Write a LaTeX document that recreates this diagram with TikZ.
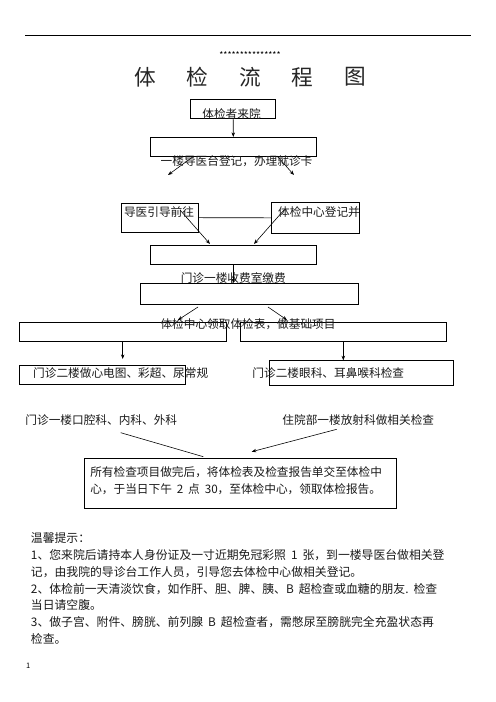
\documentclass[tikz,border=0pt]{standalone}
\usepackage{fontspec}
\setmainfont{Noto Sans CJK SC}
\usetikzlibrary{arrows.meta,positioning}
\newdimen\px \px=1.2pt
\newcommand\gap{\hspace{0.42em}}

\begin{document}
\begin{tikzpicture}[x=1.2pt,y=-1.2pt,>={Stealth[length=5.5pt,width=4.2pt]},line width=0.7pt,
  box/.style={draw,line width=0.9pt,inner sep=0pt},
  txt/.style={font=\fontsize{14}{16}\selectfont,inner sep=0pt,text=black!90},
  tip/.style={font=\fontsize{14.2}{16}\selectfont,inner sep=0pt,text=black!90,anchor=west},
  hanzi/.style={font=\fontsize{26}{28}\selectfont,inner sep=0pt,text=black!85}]

\useasboundingbox (0,0) rectangle (496,702);

% header
\coordinate (rl) at (25,35);
\coordinate (rr) at (471,35);
\draw[line width=1pt] (rl) -- (rr);
\node[inner sep=0pt,font=\fontsize{10.5}{12}\selectfont] (stars) at (250,55) {***************};
\foreach \c [count=\i from 0] in {体,检,流,程,图}
  \node[hanzi] (h\i) at (145+52.5*\i,77) {\c};

% boxes
\node[box,minimum width=85\px,minimum height=19.3\px]   (arrive)  at (233.2,108.7) {};
\node[box,minimum width=166.7\px,minimum height=18.7\px] (desk)   at (233.3,146.7) {};
\node[box,minimum width=76.3\px,minimum height=29.5\px]  (guide)  at (159.8,217.7) {};
\node[box,minimum width=87.3\px,minimum height=30.3\px]  (center) at (315.3,217.8) {};
\node[box,minimum width=166.7\px,minimum height=19\px]   (pay)    at (233.3,254.5) {};
\node[box,minimum width=217.6\px,minimum height=20.7\px] (form)   at (249.5,293.7) {};
\node[box,minimum width=206.7\px,minimum height=19\px]   (baseL)  at (122.7,331.8) {};
\node[box,minimum width=206.7\px,minimum height=19\px]   (baseR)  at (343.3,331.8) {};
\node[box,minimum width=166\px,minimum height=18.3\px]   (floorL) at (102.3,374.8) {};
\node[box,minimum width=184\px,minimum height=24.6\px]   (floorR) at (361.3,373) {};
\node[box,minimum width=312.7\px,minimum height=50\px]   (report) at (240.3,483.3) {};

% texts
\node[txt] (tArrive) at (231.5,114)   {体检者来院};
\node[txt] (tDesk)   at (236.5,161)   {一楼导医台登记，办理就诊卡};
\node[txt] (tGuide)  at (159,212)     {导医引导前往};
\node[txt] (tCenter) at (319,212)     {体检中心登记并};
\node[txt] (tPay)    at (233.3,277.7) {门诊一楼收费室缴费};
\node[txt] (tForm)   at (248,324.5)   {体检中心领取体检表，做基础项目};
\node[txt] (tFloorL) at (120.7,373)   {门诊二楼做心电图、彩超、尿常规};
\node[txt] (tFloorR) at (328.3,373)   {门诊二楼眼科、耳鼻喉科检查};
\node[txt] (tOral)   at (101.3,420)   {门诊一楼口腔科、内科、外科};
\node[txt] (tRay)    at (358.3,420)   {住院部一楼放射科做相关检查};
\node[txt,anchor=west] (tRep1) at (90,471.7) {所有检查项目做完后，将体检表及检查报告单交至体检中};
\node[txt,anchor=west] (tRep2) at (90,489)   {心，于当日下午\gap 2\gap 点\gap 30，至体检中心，领取体检报告。};

% free ends
\coordinate (d1) at (194,156);   \coordinate (d2) at (168,175);
\coordinate (d3) at (277,156);   \coordinate (d4) at (294,175);
\coordinate (g1) at (180,210);   \coordinate (g2) at (210,244);
\coordinate (c1) at (284,210);   \coordinate (c2) at (254,244);
\coordinate (f1) at (198,307);   \coordinate (f2) at (178,320);
\coordinate (f3) at (268,307);   \coordinate (f4) at (287,320);
\coordinate (l1) at (122.7,359);
\coordinate (o1) at (120.7,432.7); \coordinate (o2) at (203.3,456.7);
\coordinate (r1) at (336.7,429.3); \coordinate (r2) at (251.7,451.7);

\path[->] (arrive.south) edge (desk.north)
  (d1) edge (d2)
  (d3) edge (d4)
  (g1) edge (g2)
  (c1) edge (c2)
  (pay.south) edge (pay.south |- form.north)
  (f1) edge (f2)
  (f3) edge (f4)
  (baseL.south) edge (l1)
  (baseR.south) edge (baseR.south |- floorR.north)
  (r1) edge (r2);
\draw (guide.east) -- (center.west);
\draw (o1) -- (o2);

% tips
\foreach \t [count=\i from 0] in {{温馨提示：},
  {1、您来院后请持本人身份证及一寸近期免冠彩照\gap 1\gap 张，到一楼导医台做相关登},
  {记，由我院的导诊台工作人员，引导您去体检中心做相关登记。},
  {2、体检前一天清淡饮食，如作肝、胆、脾、胰、B\gap 超检查或血糖的朋友.\gap 检查},
  {当日请空腹。},
  {3、做子宫、附件、膀胱、前列腺\gap B\gap 超检查者，需憋尿至膀胱完全充盈状态再},
  {检查。}}
  \node[tip] (tip\i) at (30.7,538.3+16.78*\i) {\t};
\node[inner sep=0pt,font=\fontsize{9}{10}\selectfont] (page) at (28.3,666) {1};

\end{tikzpicture}
\end{document}
